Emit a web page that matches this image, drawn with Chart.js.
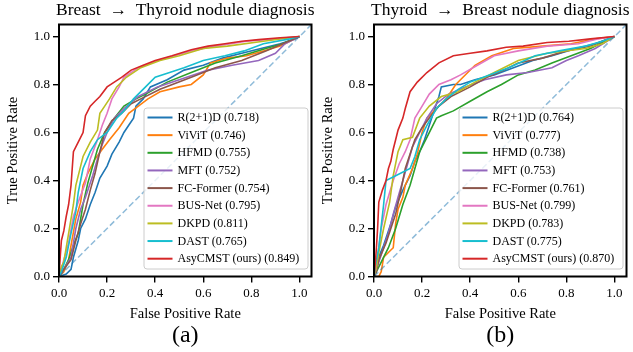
<!DOCTYPE html>
<html>
<head>
<meta charset="utf-8">
<script src="https://cdn.jsdelivr.net/npm/chart.js@4.4.0/dist/chart.umd.min.js"></script>
<style>
body { margin: 0; background: #fff; }
.panel { position: absolute; top: 0; width: 318px; height: 352px; }
</style>
</head>
<body>
<div class="panel" style="left:0"><canvas id="chartA"></canvas></div>
<div class="panel" style="left:315px"><canvas id="chartB"></canvas></div>
<script>
const FONT = "'Liberation Serif', 'Times New Roman', serif";

const models = ['R(2+1)D', 'ViViT', 'HFMD', 'MFT', 'FC-Former', 'BUS-Net', 'DKPD', 'DAST', 'AsyCMST (ours)'];
const colors = ['#1f77b4', '#ff7f0e', '#2ca02c', '#9467bd', '#8c564b', '#e377c2', '#bcbd22', '#17becf', '#d62728'];
const xTicks = [0, 0.2, 0.4, 0.6, 0.8, 1.0];
const yTicks = [0, 0.2, 0.4, 0.6, 0.8, 1.0];
const diagonal = [[0, 0], [1.05, 1.05]];

// (a) Breast -> Thyroid
const aucA = [0.718, 0.746, 0.755, 0.752, 0.754, 0.795, 0.811, 0.765, 0.849];
const rocA_R21D = [[0,0],[0.03,0.01],[0.05,0.03],[0.06,0.08],[0.08,0.15],[0.09,0.20],[0.11,0.24],[0.13,0.30],[0.15,0.35],[0.17,0.41],[0.20,0.46],[0.22,0.51],[0.25,0.56],[0.27,0.60],[0.29,0.63],[0.31,0.66],[0.32,0.71],[0.35,0.74],[0.38,0.79],[0.45,0.82],[0.52,0.86],[0.60,0.88],[0.68,0.91],[0.76,0.93],[0.84,0.95],[0.92,0.97],[0.98,0.99],[1,1]];
const rocA_ViViT = [[0,0],[0.02,0.02],[0.04,0.07],[0.05,0.13],[0.07,0.24],[0.09,0.31],[0.10,0.38],[0.12,0.43],[0.15,0.49],[0.18,0.53],[0.21,0.57],[0.25,0.62],[0.29,0.68],[0.33,0.71],[0.37,0.74],[0.42,0.77],[0.50,0.79],[0.55,0.80],[0.60,0.84],[0.63,0.89],[0.70,0.91],[0.78,0.92],[0.85,0.94],[0.92,0.96],[1,1]];
const rocA_HFMD = [[0,0],[0.02,0.03],[0.04,0.07],[0.06,0.13],[0.08,0.18],[0.10,0.30],[0.12,0.39],[0.14,0.46],[0.16,0.53],[0.19,0.60],[0.23,0.66],[0.27,0.71],[0.32,0.74],[0.36,0.76],[0.45,0.81],[0.55,0.85],[0.65,0.89],[0.76,0.92],[0.86,0.95],[0.93,0.97],[1,1]];
const rocA_MFT = [[0,0],[0.02,0.03],[0.05,0.08],[0.07,0.20],[0.09,0.28],[0.11,0.33],[0.14,0.42],[0.16,0.49],[0.18,0.55],[0.20,0.60],[0.23,0.66],[0.27,0.70],[0.33,0.75],[0.41,0.79],[0.50,0.82],[0.62,0.86],[0.72,0.88],[0.83,0.90],[0.90,0.93],[0.94,0.97],[1,1]];
const rocA_FCFormer = [[0,0],[0.02,0.03],[0.05,0.07],[0.07,0.15],[0.09,0.22],[0.11,0.28],[0.13,0.36],[0.15,0.43],[0.17,0.52],[0.19,0.60],[0.22,0.65],[0.26,0.68],[0.30,0.72],[0.34,0.74],[0.42,0.78],[0.55,0.83],[0.65,0.87],[0.76,0.90],[0.86,0.94],[0.93,0.97],[1,1]];
const rocA_BUSNet = [[0,0],[0.01,0.03],[0.02,0.07],[0.04,0.14],[0.06,0.25],[0.08,0.31],[0.11,0.39],[0.13,0.49],[0.16,0.57],[0.18,0.63],[0.20,0.68],[0.22,0.74],[0.25,0.79],[0.27,0.83],[0.33,0.87],[0.41,0.90],[0.55,0.94],[0.65,0.96],[0.78,0.98],[0.90,0.99],[1,1]];
const rocA_DKPD = [[0,0],[0.01,0.04],[0.02,0.06],[0.03,0.12],[0.04,0.18],[0.06,0.30],[0.07,0.38],[0.09,0.46],[0.10,0.50],[0.13,0.56],[0.16,0.61],[0.17,0.68],[0.19,0.71],[0.21,0.74],[0.24,0.79],[0.28,0.83],[0.34,0.87],[0.42,0.90],[0.50,0.92],[0.60,0.95],[0.70,0.96],[0.85,0.98],[1,1]];
const rocA_DAST = [[0,0],[0.01,0.02],[0.03,0.08],[0.05,0.18],[0.07,0.27],[0.08,0.35],[0.10,0.45],[0.13,0.52],[0.16,0.57],[0.20,0.60],[0.24,0.66],[0.27,0.69],[0.31,0.74],[0.36,0.79],[0.40,0.83],[0.46,0.85],[0.52,0.87],[0.60,0.90],[0.69,0.92],[0.77,0.94],[0.85,0.97],[0.96,0.99],[1,1]];
const rocA_AsyCMST = [[0,0],[0.005,0.08],[0.01,0.15],[0.02,0.19],[0.03,0.25],[0.04,0.30],[0.05,0.38],[0.055,0.45],[0.06,0.52],[0.08,0.56],[0.10,0.60],[0.11,0.67],[0.13,0.71],[0.15,0.73],[0.17,0.75],[0.20,0.79],[0.23,0.81],[0.26,0.83],[0.30,0.86],[0.35,0.88],[0.40,0.90],[0.47,0.92],[0.55,0.945],[0.62,0.96],[0.69,0.97],[0.76,0.98],[0.83,0.987],[0.92,0.995],[1,1]];

// (b) Thyroid -> Breast
const aucB = [0.764, 0.777, 0.738, 0.753, 0.761, 0.799, 0.783, 0.775, 0.870];
const rocB_R21D = [[0,0],[0.01,0.03],[0.015,0.07],[0.04,0.13],[0.07,0.22],[0.09,0.29],[0.12,0.36],[0.15,0.42],[0.17,0.48],[0.19,0.52],[0.21,0.57],[0.22,0.60],[0.24,0.66],[0.26,0.72],[0.27,0.75],[0.28,0.79],[0.33,0.80],[0.36,0.80],[0.42,0.82],[0.50,0.84],[0.58,0.87],[0.66,0.90],[0.74,0.92],[0.84,0.95],[0.92,0.97],[1,1]];
const rocB_ViViT = [[0,0],[0.02,0],[0.03,0.02],[0.04,0.08],[0.06,0.10],[0.08,0.12],[0.09,0.22],[0.10,0.28],[0.12,0.33],[0.13,0.38],[0.16,0.45],[0.18,0.51],[0.20,0.60],[0.22,0.66],[0.26,0.70],[0.30,0.74],[0.34,0.80],[0.37,0.83],[0.42,0.88],[0.49,0.92],[0.58,0.95],[0.70,0.96],[0.82,0.97],[0.92,0.99],[1,1]];
const rocB_HFMD = [[0,0],[0.01,0.02],[0.03,0.06],[0.06,0.12],[0.09,0.20],[0.12,0.30],[0.15,0.38],[0.17,0.45],[0.19,0.52],[0.22,0.58],[0.26,0.66],[0.28,0.67],[0.33,0.69],[0.40,0.73],[0.47,0.77],[0.53,0.80],[0.60,0.84],[0.67,0.86],[0.74,0.89],[0.82,0.92],[0.90,0.95],[0.96,0.98],[1,1]];
const rocB_MFT = [[0,0],[0.01,0.03],[0.04,0.12],[0.06,0.18],[0.08,0.26],[0.10,0.33],[0.12,0.40],[0.14,0.47],[0.16,0.54],[0.19,0.60],[0.22,0.66],[0.26,0.72],[0.31,0.76],[0.38,0.79],[0.46,0.82],[0.55,0.84],[0.64,0.85],[0.74,0.87],[0.80,0.90],[0.85,0.92],[0.92,0.95],[1,1]];
const rocB_FCFormer = [[0,0],[0.01,0.02],[0.02,0.07],[0.05,0.14],[0.07,0.20],[0.09,0.26],[0.11,0.35],[0.13,0.45],[0.15,0.51],[0.17,0.57],[0.20,0.62],[0.23,0.66],[0.27,0.71],[0.32,0.75],[0.40,0.79],[0.47,0.83],[0.54,0.86],[0.60,0.89],[0.70,0.91],[0.80,0.94],[0.90,0.96],[1,1]];
const rocB_BUSNet = [[0,0],[0.01,0.04],[0.02,0.12],[0.03,0.20],[0.05,0.30],[0.08,0.40],[0.105,0.47],[0.13,0.52],[0.15,0.57],[0.17,0.66],[0.20,0.71],[0.23,0.76],[0.27,0.80],[0.32,0.82],[0.36,0.84],[0.43,0.88],[0.50,0.92],[0.60,0.94],[0.72,0.96],[0.85,0.97],[0.93,0.99],[1,1]];
const rocB_DKPD = [[0,0],[0.01,0.04],[0.02,0.10],[0.04,0.20],[0.065,0.31],[0.08,0.42],[0.10,0.52],[0.12,0.57],[0.16,0.58],[0.19,0.66],[0.23,0.71],[0.28,0.75],[0.35,0.77],[0.42,0.81],[0.50,0.85],[0.60,0.90],[0.72,0.93],[0.88,0.95],[0.95,0.97],[1,1]];
const rocB_DAST = [[0,0],[0.005,0.04],[0.02,0.12],[0.03,0.21],[0.04,0.30],[0.05,0.40],[0.09,0.42],[0.15,0.45],[0.17,0.50],[0.19,0.57],[0.22,0.63],[0.26,0.70],[0.30,0.74],[0.35,0.78],[0.40,0.81],[0.48,0.84],[0.56,0.87],[0.67,0.92],[0.77,0.94],[0.88,0.96],[0.95,0.98],[1,1]];
const rocB_AsyCMST = [[0,0],[0.005,0.05],[0.01,0.12],[0.015,0.20],[0.02,0.31],[0.035,0.36],[0.05,0.40],[0.06,0.45],[0.07,0.48],[0.08,0.53],[0.09,0.57],[0.10,0.61],[0.12,0.66],[0.13,0.70],[0.15,0.77],[0.18,0.81],[0.22,0.85],[0.27,0.89],[0.33,0.92],[0.40,0.93],[0.47,0.94],[0.55,0.955],[0.62,0.96],[0.72,0.975],[0.81,0.98],[0.90,0.99],[1,1]];

const rocsA = [rocA_R21D, rocA_ViViT, rocA_HFMD, rocA_MFT, rocA_FCFormer, rocA_BUSNet, rocA_DKPD, rocA_DAST, rocA_AsyCMST];
const rocsB = [rocB_R21D, rocB_ViViT, rocB_HFMD, rocB_MFT, rocB_FCFormer, rocB_BUSNet, rocB_DKPD, rocB_DAST, rocB_AsyCMST];

// frame, legend box, title and panel tag
const panelDecor = {
    id: 'panelDecor',
    afterDatasetsDraw(chart) {
        const {ctx, chartArea: a} = chart;
        const o = chart.options.plugins.panelDecor;
        ctx.save();
        ctx.strokeStyle = '#000';
        ctx.lineWidth = 2;
        ctx.strokeRect(a.left, a.top, a.right - a.left, a.bottom - a.top);

        // legend
        const w = 164, h = 161;
        const bx = a.right - 4 - w, by = a.bottom - 8 - h;
        ctx.beginPath();
        ctx.roundRect(bx + 0.5, by + 0.5, w, h, 3);
        ctx.fillStyle = 'rgba(255,255,255,0.8)';
        ctx.fill();
        ctx.strokeStyle = '#cccccc';
        ctx.lineWidth = 1;
        ctx.stroke();
        ctx.font = '12px ' + FONT;
        ctx.textBaseline = 'middle';
        ctx.textAlign = 'left';
        o.labels.forEach((lab, i) => {
            const y = by + 10 + i * 17.65;
            ctx.strokeStyle = colors[i];
            ctx.lineWidth = 2;
            ctx.beginPath();
            ctx.moveTo(bx + 4, y);
            ctx.lineTo(bx + 29, y);
            ctx.stroke();
            ctx.fillStyle = '#000';
            ctx.fillText(lab, bx + 34, y + 0.5);
        });
        ctx.restore();
    },
    afterDraw(chart) {
        const {ctx, chartArea: a} = chart;
        const o = chart.options.plugins.panelDecor;
        const cx = (a.left + a.right) / 2;
        ctx.save();
        ctx.fillStyle = '#000';
        ctx.textAlign = 'center';
        ctx.textBaseline = 'alphabetic';
        ctx.font = '17.5px ' + FONT;
        ctx.fillText(o.title, cx, 15);
        ctx.font = '24px ' + FONT;
        ctx.fillText(o.tag, cx, 342);
        ctx.restore();
    }
};

function makeChart(id, title, tag, rocs, aucs) {
    const datasets = rocs.map((pts, i) => ({
        label: models[i],
        data: pts.map(([x, y]) => ({x, y})),
        borderColor: colors[i],
        borderWidth: 1.6,
        pointRadius: 0,
        showLine: true,
        fill: false,
        tension: 0,
        order: rocs.length - i + 1
    }));
    datasets.push({
        label: 'chance',
        data: diagonal.map(([x, y]) => ({x, y})),
        borderColor: 'rgba(31,119,180,0.5)',
        borderDash: [6, 3],
        borderWidth: 1.5,
        pointRadius: 0,
        showLine: true,
        order: 0
    });
    const tickFont = {family: FONT, size: 13};
    const titleFont = {family: FONT, size: 14.5};
    return new Chart(document.getElementById(id), {
        type: 'scatter',
        data: {datasets},
        plugins: [panelDecor],
        options: {
            responsive: true,
            maintainAspectRatio: false,
            animation: false,
            devicePixelRatio: 1,
            layout: {padding: {left: 0, top: 24.5, right: 6.5, bottom: 0}},
            plugins: {
                legend: {display: false},
                tooltip: {enabled: false},
                panelDecor: {
                    title: title,
                    tag: tag,
                    labels: models.map((m, i) => m + ' (' + aucs[i].toFixed(3) + ')')
                }
            },
            scales: {
                x: {
                    type: 'linear',
                    min: 0,
                    max: 1.05,
                    afterBuildTicks: s => { s.ticks = xTicks.map(v => ({value: v})); },
                    afterFit: s => { s.height = 75.5; },
                    border: {display: false},
                    grid: {drawOnChartArea: false, drawTicks: true, tickLength: 6, color: '#000', lineWidth: 1.4},
                    ticks: {color: '#000', font: tickFont, padding: 3, maxRotation: 0, autoSkip: false,
                            callback: v => v.toFixed(1)},
                    title: {display: true, text: 'False Positive Rate', color: '#000',
                            font: titleFont, padding: {top: 0, bottom: 29}}
                },
                y: {
                    type: 'linear',
                    min: 0,
                    max: 1.05,
                    afterBuildTicks: s => { s.ticks = yTicks.map(v => ({value: v})); },
                    afterFit: s => { s.width = 59; },
                    border: {display: false},
                    grid: {drawOnChartArea: false, drawTicks: true, tickLength: 6, color: '#000', lineWidth: 1.4},
                    ticks: {color: '#000', font: tickFont, padding: 3, autoSkip: false,
                            callback: v => v.toFixed(1)},
                    title: {display: true, text: 'True Positive Rate', color: '#000',
                            font: titleFont, padding: {top: 4, bottom: 0}}
                }
            }
        }
    });
}

makeChart('chartA', 'Breast\u2002\u2192\u2002Thyroid nodule diagnosis', '(a)', rocsA, aucA);
makeChart('chartB', 'Thyroid\u2002\u2192\u2002Breast nodule diagnosis', '(b)', rocsB, aucB);
</script>
</body>
</html>
